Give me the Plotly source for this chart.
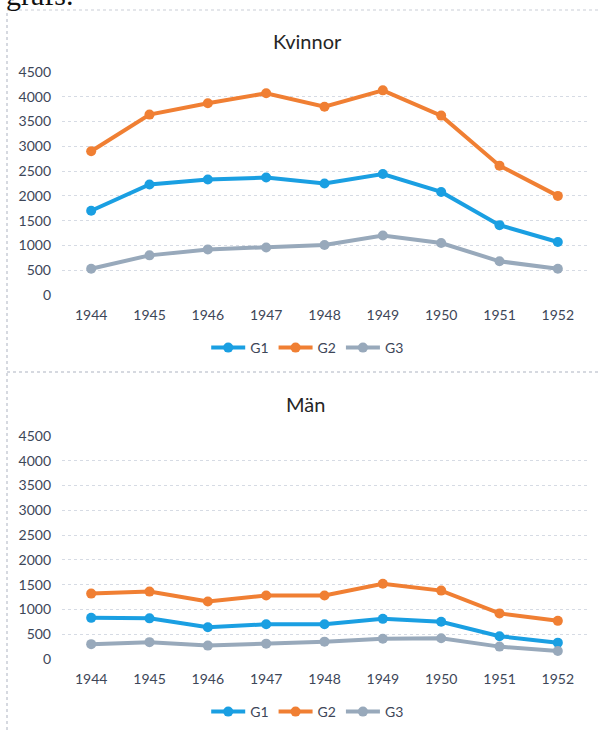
import plotly.graph_objects as go

years = ["1944", "1945", "1946", "1947", "1948", "1949", "1950", "1951", "1952"]

kvinnor_g1 = [1700, 2230, 2330, 2370, 2250, 2440, 2080, 1410, 1070]
kvinnor_g2 = [2900, 3640, 3870, 4070, 3800, 4130, 3620, 2610, 2000]
kvinnor_g3 = [530, 800, 920, 960, 1010, 1200, 1050, 680, 530]

man_g1 = [830, 820, 640, 700, 700, 810, 750, 460, 330]
man_g2 = [1320, 1360, 1160, 1280, 1280, 1520, 1380, 920, 770]
man_g3 = [300, 340, 270, 310, 350, 410, 420, 250, 160]

series_names = ["G1", "G2", "G3"]
colors = ["#1a9fe2", "#f07f33", "#98a9bb"]

W, H = 601, 730
FONT = "Lato, 'Open Sans', sans-serif"
TICK_COLOR = "#3d4658"


def py(p):
    return 1 - p / H


fig = go.Figure()

for vals, name, col in zip([kvinnor_g1, kvinnor_g2, kvinnor_g3], series_names, colors):
    fig.add_trace(go.Scatter(x=years, y=vals, name=name, mode="lines+markers",
                             line=dict(color=col, width=4),
                             marker=dict(color=col, size=10),
                             xaxis="x", yaxis="y", legend="legend"))

for vals, name, col in zip([man_g1, man_g2, man_g3], series_names, colors):
    fig.add_trace(go.Scatter(x=years, y=vals, name=name, mode="lines+markers",
                             line=dict(color=col, width=4),
                             marker=dict(color=col, size=10),
                             xaxis="x2", yaxis="y2", legend="legend2"))

xdom = [62 / W, 587 / W]
axis_common_x = dict(type="category", range=[-0.5, 8.5], showgrid=False, zeroline=False,
                     showline=False, ticks="", tickfont=dict(family=FONT, size=14, color=TICK_COLOR),
                     fixedrange=True, ticklabelstandoff=10, automargin=False)
axis_common_y = dict(range=[0, 4500], dtick=500, showgrid=True, gridcolor="#d6dbe4",
                     griddash="dot", gridwidth=1, zeroline=False, showline=False, ticks="",
                     tickfont=dict(family=FONT, size=14, color=TICK_COLOR), ticklabelstandoff=10,
                     automargin=False)

fig.update_layout(
    width=W, height=H,
    margin=dict(l=0, r=0, t=0, b=0),
    paper_bgcolor="white", plot_bgcolor="white",
    title=dict(text="grafs.", x=6 / W, xref="container", xanchor="left",
               y=py(5), yref="container", yanchor="bottom", automargin=False,
               pad=dict(t=0, b=0, l=0, r=0),
               font=dict(family="'Liberation Serif', serif", size=30, color="#111111")),
    xaxis=dict(domain=xdom, anchor="y", **axis_common_x),
    yaxis=dict(domain=[py(295), py(72)], anchor="x", **axis_common_y),
    xaxis2=dict(domain=xdom, anchor="y2", **axis_common_x),
    yaxis2=dict(domain=[py(659), py(436)], anchor="x2", **axis_common_y),
    legend=dict(orientation="h", x=0.512, xanchor="center", y=py(348), yanchor="middle",
                font=dict(family=FONT, size=14, color=TICK_COLOR), itemwidth=34,
                bgcolor="rgba(0,0,0,0)"),
    legend2=dict(orientation="h", x=0.512, xanchor="center", y=py(728), yanchor="bottom",
                 font=dict(family=FONT, size=14, color=TICK_COLOR), itemwidth=34,
                 bgcolor="rgba(0,0,0,0)"),
    showlegend=True,
    annotations=[
        dict(text="Kvinnor", x=307 / W, y=py(41), xref="paper", yref="paper",
             xanchor="center", yanchor="middle", showarrow=False,
             font=dict(family=FONT, size=20, color="#262626")),
        dict(text="Män", x=305 / W, y=py(404), xref="paper", yref="paper",
             xanchor="center", yanchor="middle", showarrow=False,
             font=dict(family=FONT, size=20, color="#262626")),
    ],
    shapes=[
        dict(type="line", xref="paper", yref="paper", x0=7 / W, x1=1, y0=py(10), y1=py(10),
             line=dict(color="#c9cdd6", width=1, dash="dot")),
        dict(type="line", xref="paper", yref="paper", x0=7 / W, x1=1, y0=py(372), y1=py(372),
             line=dict(color="#c9cdd6", width=1.5, dash="dot")),
        dict(type="line", xref="paper", yref="paper", x0=7 / W, x1=7 / W, y0=0, y1=py(10),
             line=dict(color="#c9cdd6", width=1.5, dash="dot")),
    ],
)

fig.write_html("out.html", config={"displayModeBar": False},
               post_script="document.body.style.margin='0';document.body.style.overflow='hidden';")
